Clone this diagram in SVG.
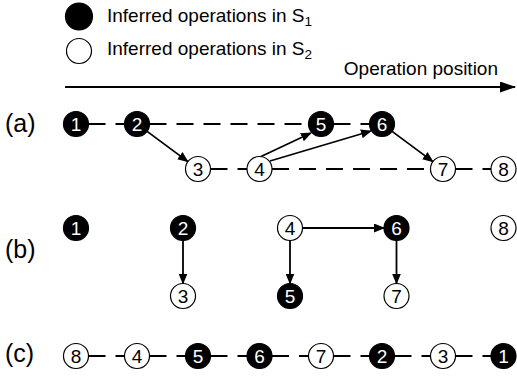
<svg xmlns="http://www.w3.org/2000/svg" width="517" height="378" viewBox="0 0 517 378">
<defs>
<marker id="ah" markerUnits="userSpaceOnUse" markerWidth="11" markerHeight="9" refX="10" refY="4.5" orient="auto"><path d="M0,0 L11,4.5 L0,9 z" fill="#000"/></marker>
<marker id="axh" markerUnits="userSpaceOnUse" markerWidth="16" markerHeight="11" refX="15" refY="5.5" orient="auto"><path d="M0,0 L16,5.5 L0,11 z" fill="#000"/></marker>
<style>
text{font-family:"Liberation Sans",Arial,sans-serif;fill:#000}
.lbl{font-size:25px}
.leg{font-size:19px}
.num{font-size:19px;text-anchor:middle}
.w{fill:#fff}
.o{fill:#fff;stroke:#000;stroke-width:1.2}
.f{fill:#000;stroke:#000;stroke-width:1.2}
.dash{stroke:#000;stroke-width:2;stroke-dasharray:17 10;fill:none}
.arr{stroke:#000;stroke-width:1.8;fill:none;marker-end:url(#ah)}
</style>
</defs>
<g id="legend">
<circle cx="79" cy="16.5" r="13.5" class="f"/>
<text x="107" y="22" class="leg">Inferred operations in S<tspan font-size="13.5" dy="4">1</tspan></text>
<circle cx="79" cy="51" r="12.5" class="o"/>
<text x="107" y="55" class="leg">Inferred operations in S<tspan font-size="13.5" dy="4">2</tspan></text>
</g>
<g id="axis">
<text x="498" y="75" class="leg" text-anchor="end">Operation position</text>
<line x1="65" y1="87" x2="515" y2="87" stroke="#000" stroke-width="2" marker-end="url(#axh)"/>
</g>
<g id="panel-labels">
<text x="5" y="132" class="lbl">(a)</text>
<text x="5" y="258" class="lbl">(b)</text>
<text x="5" y="361.5" class="lbl">(c)</text>
</g>
<g id="connectors">
<line x1="88.5" y1="124" x2="124.5" y2="124" class="dash"/>
<line x1="149.5" y1="124" x2="308.5" y2="124" class="dash"/>
<line x1="333.5" y1="124" x2="369.5" y2="124" class="dash"/>
<line x1="210.5" y1="169" x2="247" y2="169" class="dash"/>
<line x1="272" y1="169" x2="430.5" y2="169" class="dash"/>
<line x1="455.5" y1="169" x2="491" y2="169" class="dash"/>
<line x1="147.1" y1="131.4" x2="187.9" y2="161.6" class="arr"/>
<line x1="261" y1="156.5" x2="311" y2="133" class="arr"/>
<line x1="270" y1="161" x2="371" y2="131" class="arr"/>
<line x1="392.1" y1="131.4" x2="432.9" y2="161.6" class="arr"/>
<line x1="183" y1="240.5" x2="183" y2="283.5" class="arr"/>
<line x1="290" y1="240.5" x2="290" y2="283.5" class="arr"/>
<line x1="302.5" y1="228" x2="384" y2="228" class="arr"/>
<line x1="396.5" y1="240.5" x2="396.5" y2="283.5" class="arr"/>
<line x1="88.5" y1="356" x2="124.5" y2="356" class="dash"/>
<line x1="149.5" y1="356" x2="185.5" y2="356" class="dash"/>
<line x1="210.5" y1="356" x2="247" y2="356" class="dash"/>
<line x1="272" y1="356" x2="308.5" y2="356" class="dash"/>
<line x1="333.5" y1="356" x2="369.5" y2="356" class="dash"/>
<line x1="394.5" y1="356" x2="430.5" y2="356" class="dash"/>
<line x1="455.5" y1="356" x2="491" y2="356" class="dash"/>
</g>
<g id="a1"><circle cx="76" cy="124" r="12.5" class="f"/><text x="76" y="130.8" class="num w">1</text></g>
<g id="a2"><circle cx="137" cy="124" r="12.5" class="f"/><text x="137" y="130.8" class="num w">2</text></g>
<g id="a3"><circle cx="198" cy="169" r="12.5" class="o"/><text x="198" y="175.8" class="num">3</text></g>
<g id="a4"><circle cx="259.5" cy="169" r="12.5" class="o"/><text x="259.5" y="175.8" class="num">4</text></g>
<g id="a5"><circle cx="321" cy="124" r="12.5" class="f"/><text x="321" y="130.8" class="num w">5</text></g>
<g id="a6"><circle cx="382" cy="124" r="12.5" class="f"/><text x="382" y="130.8" class="num w">6</text></g>
<g id="a7"><circle cx="443" cy="169" r="12.5" class="o"/><text x="443" y="175.8" class="num">7</text></g>
<g id="a8"><circle cx="503.5" cy="169" r="12.5" class="o"/><text x="503.5" y="175.8" class="num">8</text></g>
<g id="b1"><circle cx="76" cy="228" r="12.5" class="f"/><text x="76" y="234.8" class="num w">1</text></g>
<g id="b2"><circle cx="183" cy="228" r="12.5" class="f"/><text x="183" y="234.8" class="num w">2</text></g>
<g id="b3"><circle cx="183" cy="296" r="12.5" class="o"/><text x="183" y="302.8" class="num">3</text></g>
<g id="b4"><circle cx="290" cy="228" r="12.5" class="o"/><text x="290" y="234.8" class="num">4</text></g>
<g id="b5"><circle cx="290" cy="296" r="12.5" class="f"/><text x="290" y="302.8" class="num w">5</text></g>
<g id="b6"><circle cx="396.5" cy="228" r="12.5" class="f"/><text x="396.5" y="234.8" class="num w">6</text></g>
<g id="b7"><circle cx="396.5" cy="296" r="12.5" class="o"/><text x="396.5" y="302.8" class="num">7</text></g>
<g id="b8"><circle cx="503.5" cy="228" r="12.5" class="o"/><text x="503.5" y="234.8" class="num">8</text></g>
<g id="c8"><circle cx="76" cy="356" r="12.5" class="o"/><text x="76" y="362.8" class="num">8</text></g>
<g id="c4"><circle cx="137" cy="356" r="12.5" class="o"/><text x="137" y="362.8" class="num">4</text></g>
<g id="c5"><circle cx="198" cy="356" r="12.5" class="f"/><text x="198" y="362.8" class="num w">5</text></g>
<g id="c6"><circle cx="259.5" cy="356" r="12.5" class="f"/><text x="259.5" y="362.8" class="num w">6</text></g>
<g id="c7"><circle cx="321" cy="356" r="12.5" class="o"/><text x="321" y="362.8" class="num">7</text></g>
<g id="c2"><circle cx="382" cy="356" r="12.5" class="f"/><text x="382" y="362.8" class="num w">2</text></g>
<g id="c3"><circle cx="443" cy="356" r="12.5" class="o"/><text x="443" y="362.8" class="num">3</text></g>
<g id="c1"><circle cx="503.5" cy="356" r="12.5" class="f"/><text x="503.5" y="362.8" class="num w">1</text></g>
</svg>
